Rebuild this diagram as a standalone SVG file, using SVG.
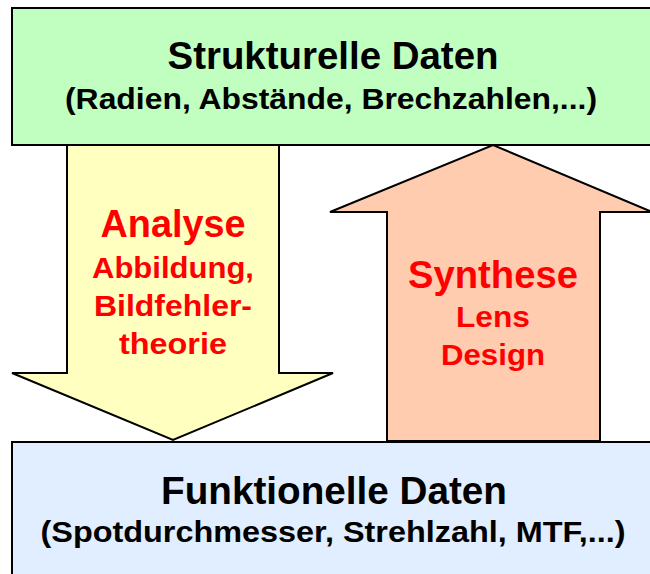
<svg xmlns="http://www.w3.org/2000/svg" width="650" height="574" viewBox="0 0 650 574">
<style>
.box{stroke:#000;stroke-width:2}
.arr{stroke:#000;stroke-width:2;stroke-linejoin:miter}
.t{font-family:"Liberation Sans",Arial,sans-serif;font-weight:bold;text-anchor:middle}
.blk{fill:#000}
.red{fill:#FF0000}
</style>
<rect width="650" height="574" fill="#fff"/>
<g id="connectors">
<polygon id="analyse-arrow" class="arr" fill="#FFFFC0" points="67,145 279,145 279,373 333,373 173,440 12,373 67,373"/>
<polygon id="synthese-arrow" class="arr" fill="#FFCCB0" points="387,441 387,212 330,212 493,145 652,212 600,212 600,441"/>
<g id="analyse-label">
<text class="t red" x="173" y="237" font-size="38" textLength="145" lengthAdjust="spacingAndGlyphs">Analyse</text>
<text class="t red" x="173" y="278" font-size="30" textLength="162" lengthAdjust="spacingAndGlyphs">Abbildung,</text>
<text class="t red" x="173" y="316" font-size="30" textLength="158" lengthAdjust="spacingAndGlyphs">Bildfehler-</text>
<text class="t red" x="173" y="354" font-size="30" textLength="108" lengthAdjust="spacingAndGlyphs">theorie</text>
</g>
<g id="synthese-label">
<text class="t red" x="493" y="288" font-size="38" textLength="170" lengthAdjust="spacingAndGlyphs">Synthese</text>
<text class="t red" x="493" y="327" font-size="30" textLength="74" lengthAdjust="spacingAndGlyphs">Lens</text>
<text class="t red" x="493" y="365" font-size="30" textLength="104" lengthAdjust="spacingAndGlyphs">Design</text>
</g>
</g>
<g id="strukturelle">
<rect class="box" x="12" y="8" width="660" height="137" fill="#C0FFC0"/>
<text class="t blk" x="333" y="69" font-size="38" textLength="331" lengthAdjust="spacingAndGlyphs">Strukturelle Daten</text>
<text class="t blk" x="331" y="109" font-size="30" textLength="532" lengthAdjust="spacingAndGlyphs">(Radien, Abstände, Brechzahlen,...)</text>
</g>
<g id="funktionelle">
<rect class="box" x="12" y="442" width="660" height="150" fill="#E0EEFF"/>
<text class="t blk" x="334" y="504" font-size="38" textLength="346" lengthAdjust="spacingAndGlyphs">Funktionelle Daten</text>
<text class="t blk" x="333" y="542" font-size="30" textLength="585" lengthAdjust="spacingAndGlyphs">(Spotdurchmesser, Strehlzahl, MTF,...)</text>
</g>
</svg>
